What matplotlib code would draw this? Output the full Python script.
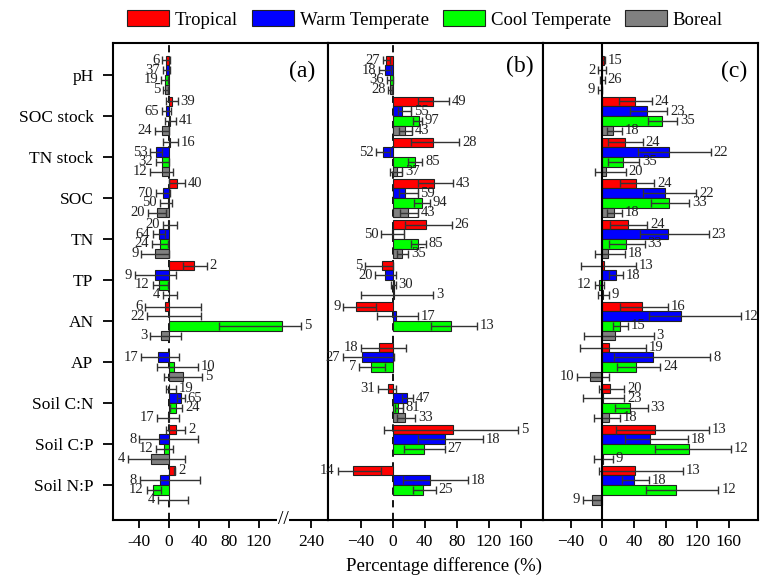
import numpy as np
import matplotlib
matplotlib.use("Agg")
import matplotlib.pyplot as plt
from matplotlib.patches import Patch

plt.rcParams["font.family"] = ["Liberation Serif", "DejaVu Serif"]

nan = np.nan
variables = ["pH", "SOC stock", "TN stock", "SOC", "TN", "TP", "AN", "AP",
             "Soil C:N", "Soil C:P", "Soil N:P"]
biomes = ["Tropical", "Warm Temperate", "Cool Temperate", "Boreal"]
colors = ["#ff0000", "#0000ff", "#00ff00", "#808080"]

# rows = biomes (Tropical, Warm, Cool, Boreal), columns = variables
a_mean = [[-3.5, 4, 1, 10.7, -1.5, 34, -5.8, nan, 0.5, 8.9, 7.6],
          [-3.5, -3.5, -17.8, -8, -13.3, -19, -0.5, -14.7, 16.4, -13.3, -12.4],
          [-6, 1, -8.9, -2, -12.4, -13.3, 151, 6.2, 9.8, -7, -21.3],
          [-5, -9.8, -9.8, -16, -18.2, -0.5, -11, 18.7, -1, -23.6, -0.5]]
a_lo = [[-8.9, -3.6, -8, 0.5, -8, 18.7, -32, nan, -4.4, -3.6, 7],
        [-8, -9.8, -25, -17.8, -21.3, -45.8, -29, -37, 10.7, -40, -39],
        [-10.7, -6, -17.8, -12.4, -23, -22, 66.7, -15.6, 1.8, -17.8, -30],
        [-8, -19, -25, -28, -37, -8, -25, -7, -16, -54.7, -14.7]]
a_hi = [[2, 11.6, 12, 20.9, 10.7, 50.7, 43, nan, 8.9, 22, 8.2],
        [1, 2.8, -10, 1.8, -5, 8.9, 43, 14, 20.9, 38.7, 41.8],
        [-1.3, 8.9, 0, 4.4, -2, -1, 204, 38.7, 17.8, 5.3, -10.2],
        [-2, -0.5, 6, -4, 0, 10.7, 15.6, 44.4, 13.3, 20.9, 25.3]]
a_n = [[6, 39, 16, 40, 20, 2, 6, nan, 19, 2, 2],
       [37, 65, 53, 70, 64, 9, 22, 17, 65, 8, 8],
       [19, 41, 32, 50, 24, 12, 5, 10, 24, 12, 12],
       [5, 24, 12, 20, 9, 4, 3, 5, 17, 4, 4]]

b_mean = [[-8.3, 50.8, 50, 52, 41.7, -13, -45.8, -16.7, -5.4, 75.8, -50],
          [-9.6, 12, -12.5, 15.4, -0.5, -9.6, 4, -38.8, 17.5, 65.4, 46.7],
          [-3, 33, 28, 36, 32, 1, 73, -27.5, 7, 39.6, 38],
          [-3.3, 15.4, 5, 18.7, 11, 2, nan, nan, 15.4, nan, nan]]
b_lo = [[-12.5, 32, 23, 31, 15.4, -34.6, -61.7, -39.6, -18.8, -10.4, -69],
        [-16.7, 6.2, -21, 8, -14.6, -22, -20, -62.5, 11.2, 31, 12.5],
        [-7.5, 25.8, 19.6, 27, 23, -2, 48, -41.7, 3, 14, 25],
        [-5.4, 8, -3, 9, 5, -39.6, nan, nan, 5, nan, nan]]
b_hi = [[-4, 70.8, 83, 75.8, 73.7, 0, -20.8, 16.2, 4, 157, -14.6],
        [-2.5, 23, -4, 31, 14, 4, 32, 1.7, 25, 113, 93.8],
        [0, 36, 37, 46.7, 41, 4, 105, -9.6, 13, 65.4, 54],
        [-1, 24.6, 12, 31, 19.6, 50.8, nan, nan, 28, nan, nan]]
b_n = [[27, 49, 28, 43, 26, 5, 9, 18, 31, 5, 14],
       [18, 55, 52, 59, 50, 20, 17, 27, 47, 18, 18],
       [36, 97, 85, 94, 85, 30, 13, 7, 81, 27, 25],
       [28, 43, 37, 43, 35, 3, nan, nan, 33, nan, nan]]
# open (white) boxes seen behind some bars in panel (b)
b_open = [[0, 0, 0, 0, 0, 0, 0, 0, 0, 0, 0],
          [0, 23, 0, 31, 14, 0, 0, 0, 0, 0, 0],
          [0, 0, 0, 0, 0, 0, 0, 0, 13, 0, 0],
          [0, 24.6, 12, 31, 0, 0, 0, 0, 0, 0, 0]]

c_mean = [[2, 41, 29, 42.6, 33, 2.5, 50, 8, 10, 67, 41],
          [-0.5, 56.5, 84, 79, 82.7, 17.3, 99.6, 64, 0.5, 60.8, 39.7],
          [0, 75.5, 26, 84, 30, -4.2, 22, 42.6, 35.4, 110, 93.7],
          [-2, 13.5, 4.6, 14.3, 6.7, 0.5, 16.5, -15, 8, 1, -13]]
c_lo = [[0, 21.5, 7, 22, 10, -27, 23, -28.7, -4.6, 17.7, -3.8],
        [-5.5, 34.6, 45, 51, 48, 8, 58.6, 15, -24.5, 29, 25],
        [-2.5, 57.4, 7, 61.6, 8, -9.7, 13.5, 18.6, 16.5, 67, 55.7],
        [-5.5, 6, -8.9, 6, -8.9, -6, -23.6, -32, -10, -11, -25]]
c_hi = [[4, 63, 51.5, 66, 57, 43, 83, 55, 27.8, 134.6, 102],
        [4.6, 82, 137.5, 119, 134.6, 26, 176, 136.7, 27.8, 108, 58.6],
        [3, 95, 47, 110, 54, 1.7, 32, 73.4, 57.8, 163, 147],
        [0, 25, 30, 25, 29, 8, 65, 9, 22.8, 13.5, -1]]
c_n = [[15, 24, 24, 24, 24, 13, 16, 19, 20, 13, 13],
       [2, 23, 22, 22, 23, 18, 12, 8, 23, 18, 18],
       [26, 35, 35, 33, 33, 12, 15, 24, 33, 12, 12],
       [9, 18, 20, 18, 18, 9, 3, 10, 18, 9, 9]]

bar_h = 0.235
offsets = [-0.355, -0.118, 0.118, 0.355]
edge = "#222222"
err_col = "#333333"


def draw_panel(ax, mean, lo, hi, n, extra=None):
    y = np.arange(len(variables))
    for i, color in enumerate(colors):
        yy = y + offsets[i]
        m = np.array(mean[i], float)
        l = np.array(lo[i], float)
        h = np.array(hi[i], float)
        ok = ~np.isnan(m)
        if extra is not None:
            e = np.array(extra[i], float)
            sel = ok & (e > 0)
            ax.barh(yy[sel], e[sel], height=bar_h, color="white",
                    edgecolor=edge, linewidth=0.8, zorder=2)
        ax.barh(yy[ok], m[ok], height=bar_h, color=color,
                edgecolor=edge, linewidth=0.8, zorder=3)
        xerr = np.vstack([np.clip(m - l, 0, None), np.clip(h - m, 0, None)])
        ax.errorbar(m[ok], yy[ok], xerr=xerr[:, ok], fmt="none", ecolor=err_col,
                    elinewidth=1, capsize=3.2, capthick=1, zorder=4)
        for j in np.where(ok)[0]:
            if m[j] >= 0:
                ax.annotate(f"{int(n[i][j])}", (h[j], yy[j]), xytext=(2, 0),
                            textcoords="offset points", ha="left", va="center",
                            fontsize=10.5, color="#222222")
            else:
                ax.annotate(f"{int(n[i][j])}", (l[j], yy[j]), xytext=(-2, 0),
                            textcoords="offset points", ha="right", va="center",
                            fontsize=10.5, color="#222222")
    ax.set_ylim(10.85, -0.78)
    for s in ax.spines.values():
        s.set_linewidth(1.5)
    ax.tick_params(axis="x", direction="out", length=6, width=1.3, labelsize=12.5, pad=4)


def fwd(x):
    x = np.asarray(x, float)
    return np.where(x <= 160, x, 160 + (x - 160) * 0.375)


def inv(x):
    x = np.asarray(x, float)
    return np.where(x <= 160, x, 160 + (x - 160) / 0.375)


fig = plt.figure(figsize=(7.68, 5.79), dpi=100)
axa = fig.add_axes([0.1471, 0.1019, 0.28, 0.8238])
axb = fig.add_axes([0.4271, 0.1019, 0.28, 0.8238])
axc = fig.add_axes([0.707, 0.1019, 0.28, 0.8238])

# panel (a) with broken x axis
axa.set_xscale("function", functions=(fwd, inv))
axa.axvline(0, color="black", lw=1.3, ls=(0, (4, 3)), zorder=1)
draw_panel(axa, a_mean, a_lo, a_hi, a_n)
axa.set_xlim(-75, 301)
axa.set_xticks([-40, 0, 40, 80, 120, 240])
axa.set_xticklabels(["-40", "0", "40", "80", "120", "240"])
axa.set_yticks(np.arange(len(variables)))
axa.set_yticklabels(variables, fontsize=12.5)
axa.tick_params(axis="y", direction="out", length=7, width=1.3, pad=7)
axa.text(153, 0, "//", transform=axa.get_xaxis_transform(), ha="center", va="center",
         fontsize=14, bbox=dict(facecolor="white", edgecolor="none", pad=0.5), zorder=6,
         clip_on=False)
axa.text(0.88, 0.94, "(a)", transform=axa.transAxes, ha="center", va="center", fontsize=17)

# panel (b)
axb.axvline(0, color="black", lw=1.3, ls=(0, (4, 3)), zorder=1)
draw_panel(axb, b_mean, b_lo, b_hi, b_n, extra=b_open)
axb.set_xlim(-81, 188)
axb.set_xticks([-40, 0, 40, 80, 120, 160])
axb.set_yticks([])
axb.text(0.89, 0.95, "(b)", transform=axb.transAxes, ha="center", va="center", fontsize=17)

# panel (c)
axc.axvline(0, color="black", lw=1.5, zorder=5)
draw_panel(axc, c_mean, c_lo, c_hi, c_n)
axc.set_xlim(-75, 197)
axc.set_xticks([-40, 0, 40, 80, 120, 160])
axc.set_yticks([])
axc.text(0.89, 0.94, "(c)", transform=axc.transAxes, ha="center", va="center", fontsize=17)

fig.text(0.578, 0.022, "Percentage difference (%)", ha="center", va="center", fontsize=13.5)

handles = [Patch(facecolor=c, edgecolor=edge, linewidth=0.8) for c in colors]
fig.legend(handles, biomes, loc="center", bbox_to_anchor=(0.553, 0.967), ncol=4,
           frameon=False, fontsize=13.5, handlelength=2.25, handleheight=1.0,
           handletextpad=0.3, columnspacing=0.75, borderaxespad=0)

fig.savefig("out.png", dpi=100)
